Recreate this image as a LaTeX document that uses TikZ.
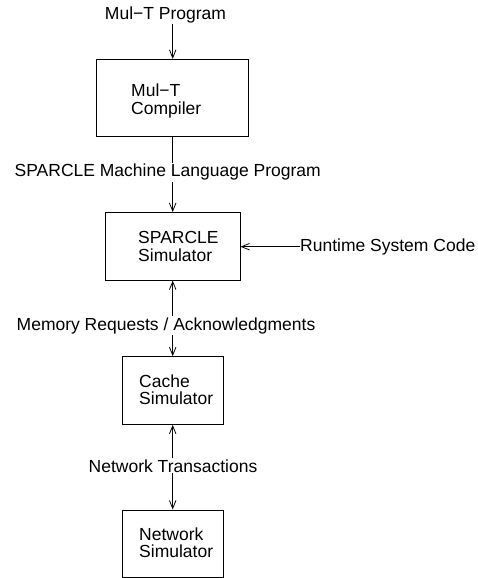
\documentclass[tikz,border=0pt]{standalone}
\usepackage{fontspec}
\setmainfont{Liberation Sans}
\usetikzlibrary{arrows.meta}

\begin{document}
\begin{tikzpicture}[x=1pt, y=-1pt,
  font=\fontsize{17.5}{17.5}\selectfont,
  box/.style={draw, line width=1pt, inner sep=0pt},
  txt/.style={inner sep=0pt, align=left, anchor=west},
  lbl/.style={fill=white, inner sep=1pt},
  arr/.style={-{Straight Barb[length=8pt, width=6.5pt]}, line width=0.8pt},
  ln/.style={line width=0.8pt}]

\useasboundingbox (0, 0) rectangle (478, 578);

\node (comp) at (172.7, 97.7) [box, minimum width=152pt, minimum height=76.7pt] {};
\node (sim) at (172.7, 246.3) [box, minimum width=134.6pt, minimum height=67.5pt] {};
\node (cache) at (172.7, 390.5) [box, minimum width=101.3pt, minimum height=67.6pt] {};
\node (net) at (172.7, 543.5) [box, minimum width=101pt, minimum height=67pt] {};

\node (compT) at (131, 101) [txt] {Mul−T\\Compiler};
\node (simT) at (138, 246.5) [txt] {SPARCLE\\Simulator};
\node (cacheT) at (139, 389.5) [txt] {Cache\\Simulator};
\node (netT) at (139, 542.5) [txt] {Network\\Simulator};

\node (prog) at (165.5, 19.3) [lbl, anchor=base] {Mul−T Program};
\node (mlang) at (167.7, 176.7) [lbl, anchor=base] {SPARCLE Machine Language Program};
\node (rtc) at (300, 246.7) [lbl, inner sep=0pt, anchor=west] {Runtime System Code};
\node (mem) at (166, 330) [lbl, anchor=base] {Memory Requests / Acknowledgments};
\node (ntr) at (173, 472) [lbl, anchor=base] {Network Transactions};

\path[arr] (prog.south -| comp.north) edge (comp.north);
\path[ln] (comp.south) edge (comp.south |- mlang.north);
\path[arr] (comp.south |- mlang.south) edge (sim.north);
\path[arr] (rtc.west) edge (sim.east |- rtc.west);
\path[arr] (sim.south |- mem.north) edge (sim.south);
\path[arr] (cache.north |- mem.south) edge (cache.north);
\path[arr] (cache.south |- ntr.north) edge (cache.south);
\path[arr] (net.north |- ntr.south) edge (net.north);

\end{tikzpicture}
\end{document}
